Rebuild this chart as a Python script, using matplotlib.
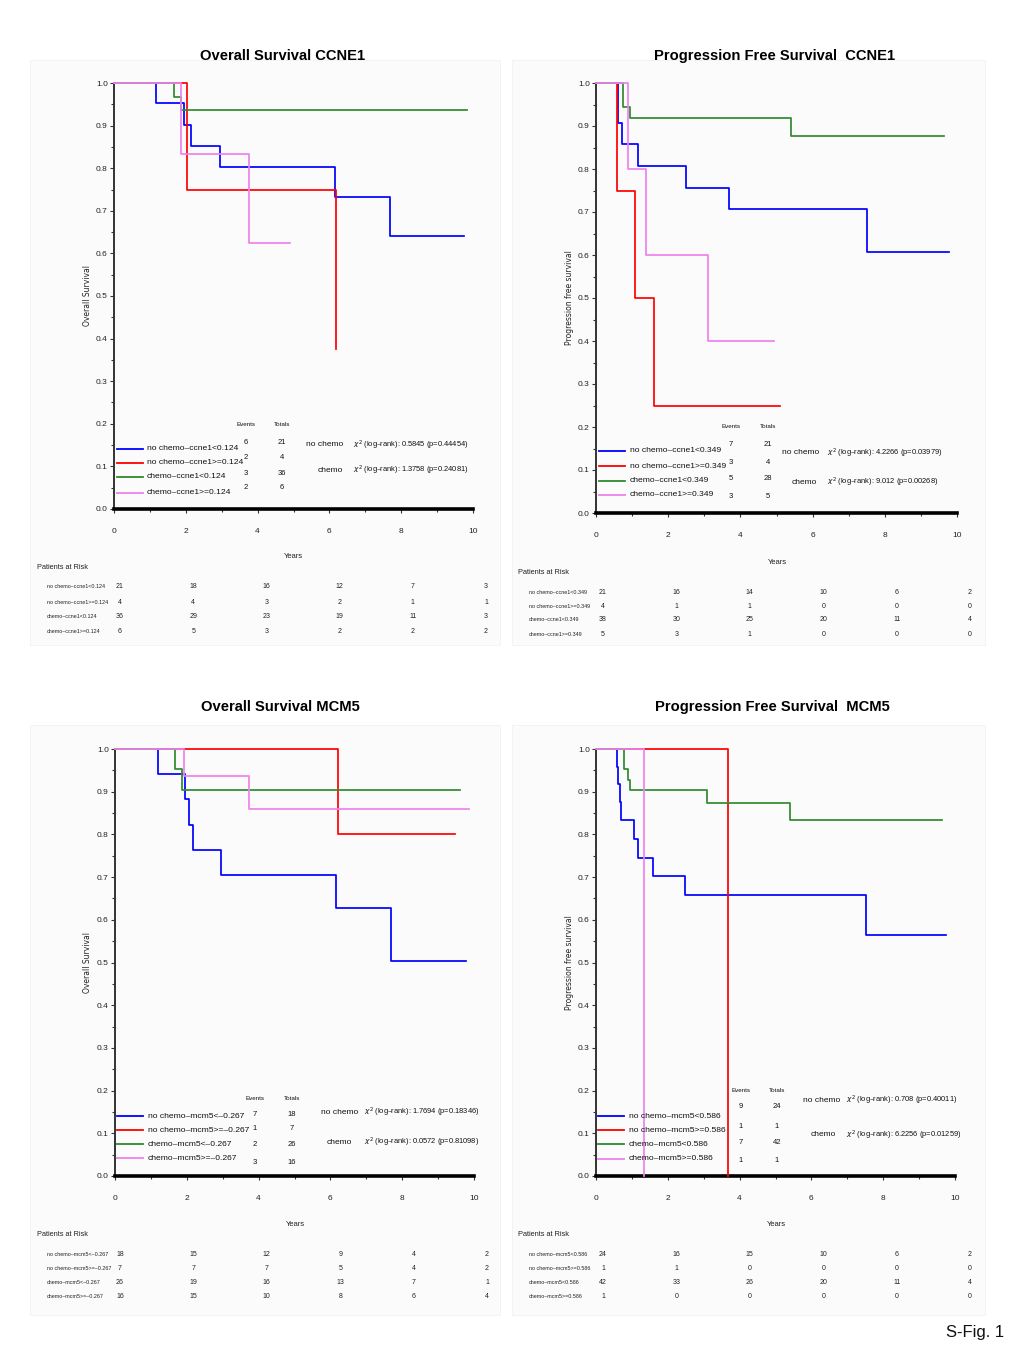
import matplotlib
matplotlib.use("Agg")
import matplotlib.pyplot as plt
from matplotlib.ticker import MultipleLocator, FormatStrFormatter
from matplotlib.patches import Rectangle

NARROW = ['Liberation Sans Narrow', 'Liberation Sans', 'DejaVu Sans']
plt.rcParams['font.family'] = NARROW
plt.rcParams['mathtext.fontset'] = 'dejavusans'

W, H = 1020, 1361
COLORS = ['#0000ff', '#ff0000', '#2e8b2e', '#ee82ee']

# ---------------- data ----------------
titles = ["Overall Survival CCNE1", "Progression Free Survival  CCNE1",
          "Overall Survival MCM5", "Progression Free Survival  MCM5"]
ylabels = ["Overall Survival", "Progression free survival",
           "Overall Survival", "Progression free survival"]

groups_p1 = ["no chemo–ccne1<0.124", "no chemo–ccne1>=0.124", "chemo–ccne1<0.124", "chemo–ccne1>=0.124"]
groups_p2 = ["no chemo–ccne1<0.349", "no chemo–ccne1>=0.349", "chemo–ccne1<0.349", "chemo–ccne1>=0.349"]
groups_p3 = ["no chemo–mcm5<–0.267", "no chemo–mcm5>=–0.267", "chemo–mcm5<–0.267", "chemo–mcm5>=–0.267"]
groups_p4 = ["no chemo–mcm5<0.586", "no chemo–mcm5>=0.586", "chemo–mcm5<0.586", "chemo–mcm5>=0.586"]

risk_labels_p1 = ["no chemo–ccne1<0.124", "no chemo–ccne1>=0.124", "chemo–ccne1<0.124", "chemo–ccne1>=0.124"]
risk_labels_p2 = ["no chemo–ccne1<0.349", "no chemo–ccne1>=0.349", "chemo–ccne1<0.349", "chemo–ccne1>=0.349"]
risk_labels_p3 = ["no chemo–mcm5<–0.267", "no chemo–mcm5>=–0.267", "chemo–mcm5<–0.267", "chemo–mcm5>=–0.267"]
risk_labels_p4 = ["no chemo–mcm5<0.586", "no chemo–mcm5>=0.586", "chemo–mcm5<0.586", "chemo–mcm5>=0.586"]

events_p1 = [6, 2, 3, 2]; totals_p1 = [21, 4, 36, 6]
events_p2 = [7, 3, 5, 3]; totals_p2 = [21, 4, 28, 5]
events_p3 = [7, 1, 2, 3]; totals_p3 = [18, 7, 26, 16]
events_p4 = [9, 1, 7, 1]; totals_p4 = [24, 1, 42, 1]

chi_p1 = ["(log–rank): 0.5845 (p=0.44454)", "(log–rank): 1.3758 (p=0.24081)"]
chi_p2 = ["(log–rank): 4.2266 (p=0.03979)", "(log–rank): 9.012 (p=0.00268)"]
chi_p3 = ["(log–rank): 1.7694 (p=0.18346)", "(log–rank): 0.0572 (p=0.81098)"]
chi_p4 = ["(log–rank): 0.708 (p=0.40011)", "(log–rank): 6.2256 (p=0.01259)"]

risk_times = [0, 2, 4, 6, 8, 10]
risk_p1 = [[21, 18, 16, 12, 7, 3], [4, 4, 3, 2, 1, 1], [36, 29, 23, 19, 11, 3], [6, 5, 3, 2, 2, 2]]
risk_p2 = [[21, 16, 14, 10, 6, 2], [4, 1, 1, 0, 0, 0], [38, 30, 25, 20, 11, 4], [5, 3, 1, 0, 0, 0]]
risk_p3 = [[18, 15, 12, 9, 4, 2], [7, 7, 7, 5, 4, 2], [26, 19, 16, 13, 7, 1], [16, 15, 10, 8, 6, 4]]
risk_p4 = [[24, 16, 15, 10, 6, 2], [1, 1, 0, 0, 0, 0], [42, 33, 26, 20, 11, 4], [1, 0, 0, 0, 0, 0]]

# Kaplan-Meier steps: event times, survival after each event, last follow-up time
km_times_p1 = [[1.18, 1.95, 2.15, 2.95, 6.15, 7.68], [2.03, 6.19], [1.66, 1.88], [1.88, 3.75]]
km_surv_p1 = [[0.952, 0.902, 0.852, 0.802, 0.733, 0.642], [0.75, 0.375], [0.968, 0.936], [0.833, 0.625]]
km_end_p1 = [9.74, 6.19, 9.83, 4.91]

km_times_p2 = [[0.62, 0.71, 1.17, 2.50, 3.69, 7.52], [0.59, 1.08, 1.62], [0.76, 0.94, 5.40], [0.88, 1.38, 3.11]]
km_surv_p2 = [[0.906, 0.858, 0.806, 0.756, 0.706, 0.606], [0.75, 0.5, 0.25], [0.945, 0.919, 0.877], [0.8, 0.6, 0.4]]
km_end_p2 = [9.77, 5.10, 9.63, 4.92]

km_times_p3 = [[1.19, 1.96, 2.05, 2.16, 2.96, 6.15, 7.70], [6.22], [1.66, 1.88], [1.91, 3.74]]
km_surv_p3 = [[0.942, 0.883, 0.823, 0.764, 0.706, 0.628, 0.503], [0.8], [0.952, 0.905], [0.937, 0.859]]
km_end_p3 = [9.77, 9.48, 9.60, 9.86]

km_times_p4 = [[0.58, 0.62, 0.66, 0.70, 1.07, 1.17, 1.60, 2.48, 7.52], [3.67], [0.77, 0.89, 0.95, 3.10, 5.39], [1.35]]
km_surv_p4 = [[0.958, 0.917, 0.875, 0.833, 0.790, 0.745, 0.703, 0.658, 0.564], [0.0],
              [0.952, 0.928, 0.904, 0.873, 0.833], [0.0]]
km_end_p4 = [9.76, 3.67, 9.64, 1.35]

# ---------------- layout (pixels) ----------------
panels = [
    dict(title=titles[0], ylab=ylabels[0], groups=groups_p1, rl=risk_labels_p1, ev=events_p1, tot=totals_p1,
         chi=chi_p1, risk=risk_p1, t=km_times_p1, s=km_surv_p1, e=km_end_p1,
         ax=(114, 473, 83, 509), tpos=(283, 56), ylx=88,
         leg_rows=[449, 463, 477, 493], leg_x=(117, 143, 147),
         ev_x=246, tot_x=282, ev_rows=[443, 458, 473, 488], hdr_y=425,
         nc=(343, 445), ch=(343, 470), chi_x=353,
         years=(293, 557), par=(37, 567), rows=[587, 602, 617, 631], rlx=47,
         rx0=120, rx10=486, bg=(30, 60, 500, 645)),
    dict(title=titles[1], ylab=ylabels[1], groups=groups_p2, rl=risk_labels_p2, ev=events_p2, tot=totals_p2,
         chi=chi_p2, risk=risk_p2, t=km_times_p2, s=km_surv_p2, e=km_end_p2,
         ax=(596, 957, 83, 513), tpos=(775, 56), ylx=570,
         leg_rows=[451, 466, 481, 495], leg_x=(599, 625, 630),
         ev_x=731, tot_x=768, ev_rows=[445, 463, 479, 497], hdr_y=427,
         nc=(819, 453), ch=(817, 482), chi_x=827,
         years=(777, 562), par=(518, 572), rows=[592, 606, 620, 634], rlx=529,
         rx0=603, rx10=970, bg=(512, 60, 985, 645)),
    dict(title=titles[2], ylab=ylabels[2], groups=groups_p3, rl=risk_labels_p3, ev=events_p3, tot=totals_p3,
         chi=chi_p3, risk=risk_p3, t=km_times_p3, s=km_surv_p3, e=km_end_p3,
         ax=(115, 474, 749, 1176), tpos=(280, 707), ylx=88,
         leg_rows=[1116, 1130, 1144, 1158], leg_x=(117, 143, 148),
         ev_x=255, tot_x=292, ev_rows=[1114, 1129, 1145, 1163], hdr_y=1098,
         nc=(358, 1112), ch=(352, 1142), chi_x=364,
         years=(295, 1225), par=(37, 1235), rows=[1254, 1269, 1283, 1297], rlx=47,
         rx0=120, rx10=487, bg=(30, 725, 500, 1315)),
    dict(title=titles[3], ylab=ylabels[3], groups=groups_p4, rl=risk_labels_p4, ev=events_p4, tot=totals_p4,
         chi=chi_p4, risk=risk_p4, t=km_times_p4, s=km_surv_p4, e=km_end_p4,
         ax=(596, 955, 749, 1176), tpos=(772, 707), ylx=570,
         leg_rows=[1116, 1130, 1144, 1159], leg_x=(598, 624, 629),
         ev_x=741, tot_x=777, ev_rows=[1107, 1127, 1143, 1161], hdr_y=1091,
         nc=(840, 1100), ch=(836, 1135), chi_x=846,
         years=(776, 1225), par=(518, 1235), rows=[1254, 1269, 1283, 1297], rlx=529,
         rx0=603, rx10=970, bg=(512, 725, 985, 1315)),
]

fig = plt.figure(figsize=(W / 100, H / 100), dpi=100)
fig.patch.set_facecolor('white')


def fx(px):
    return px / W


def fy(py):
    return 1 - py / H


def ftext(px, py, s, **kw):
    fig.text(fx(px), fy(py), s, **kw)


for k, p in enumerate(panels):
    # faint panel background
    bx0, by0, bx1, by1 = p['bg']
    fig.patches.append(Rectangle((fx(bx0), fy(by1)), fx(bx1) - fx(bx0), fy(by0) - fy(by1),
                                 transform=fig.transFigure, facecolor='#fbfbfb', edgecolor='#f2f2f2',
                                 lw=0.6, zorder=-5))

    x0, x1, y0, y1 = p['ax']
    ax = fig.add_axes([fx(x0), fy(y1), fx(x1) - fx(x0), fy(y0) - fy(y1)], zorder=2)
    ax.set_facecolor('none')
    ax.set_xlim(0, 10)
    ax.set_ylim(0, 1)
    for sp in ['top', 'right']:
        ax.spines[sp].set_visible(False)
    ax.spines['bottom'].set_linewidth(2.6)
    ax.spines['left'].set_linewidth(1.4)
    ax.spines['left'].set_color('#333333')
    ax.xaxis.set_major_locator(MultipleLocator(2))
    ax.xaxis.set_minor_locator(MultipleLocator(1))
    ax.yaxis.set_major_locator(MultipleLocator(0.1))
    ax.yaxis.set_minor_locator(MultipleLocator(0.05))
    ax.yaxis.set_major_formatter(FormatStrFormatter('%.1f'))
    ax.xaxis.set_major_formatter(FormatStrFormatter('%d'))
    ax.tick_params(axis='both', which='major', length=3, width=0.8, labelsize=6, color='#333333')
    ax.tick_params(axis='both', which='minor', length=2, width=0.8, color='#333333')
    ax.tick_params(axis='x', which='major', pad=11)
    ax.tick_params(axis='y', which='major', pad=1.5)
    for lab in ax.get_xticklabels() + ax.get_yticklabels():
        lab.set_color('#222222')

    # KM curves
    for gi in range(4):
        xs = [0] + list(p['t'][gi]) + [p['e'][gi]]
        ys = [1.0] + list(p['s'][gi]) + [p['s'][gi][-1]]
        ax.plot(xs, ys, drawstyle='steps-post', color=COLORS[gi], lw=1.25, clip_on=False,
                zorder=3 + gi)

    # title
    ftext(p['tpos'][0], p['tpos'][1], p['title'], ha='center', va='center', fontsize=10.6,
          fontweight='bold', color='black')
    # y label
    ftext(p['ylx'], (y0 + y1) / 2, p['ylab'], ha='center', va='center', rotation=90,
          fontsize=5.5, family=['DejaVu Sans'], color='#222222')

    # legend inside
    lx0, lx1, ltx = p['leg_x']
    for gi in range(4):
        yy = p['leg_rows'][gi]
        fig.add_artist(plt.Line2D([fx(lx0), fx(lx1)], [fy(yy), fy(yy)], color=COLORS[gi], lw=1.3,
                                  transform=fig.transFigure))
        ftext(ltx, yy, p['groups'][gi], ha='left', va='center', fontsize=6.1, color='#111111')
        ftext(p['ev_x'], p['ev_rows'][gi], str(p['ev'][gi]), ha='center', va='center', fontsize=5.5,
              color='#111111')
        ftext(p['tot_x'], p['ev_rows'][gi], str(p['tot'][gi]), ha='center', va='center', fontsize=5.5,
              color='#111111')
    ftext(p['ev_x'], p['hdr_y'], "Events", ha='center', va='center', fontsize=4.5, color='#111111')
    ftext(p['tot_x'], p['hdr_y'], "Totals", ha='center', va='center', fontsize=4.5, color='#111111')

    ftext(p['nc'][0], p['nc'][1], "no chemo", ha='right', va='center', fontsize=6, color='#111111')
    ftext(p['chi_x'], p['nc'][1], r"$\chi^2$ " + p['chi'][0], ha='left', va='center', fontsize=5.4,
          color='#111111')
    ftext(p['ch'][0], p['ch'][1], "chemo", ha='right', va='center', fontsize=6, color='#111111')
    ftext(p['chi_x'], p['ch'][1], r"$\chi^2$ " + p['chi'][1], ha='left', va='center', fontsize=5.4,
          color='#111111')

    # Years label and patients at risk
    ftext(p['years'][0], p['years'][1], "Years", ha='center', va='center', fontsize=5.5, color='#222222')
    ftext(p['par'][0], p['par'][1], "Patients at Risk", ha='left', va='center', fontsize=5.3,
          color='#222222')
    for gi in range(4):
        yy = p['rows'][gi]
        ftext(p['rlx'], yy, p['rl'][gi], ha='left', va='center', fontsize=3.9, color='#222222')
        for ti, t in enumerate(risk_times):
            px = p['rx0'] + (p['rx10'] - p['rx0']) * t / 10.0
            ftext(px, yy, str(p['risk'][gi][ti]), ha='center', va='center', fontsize=5,
                  color='#222222')

ftext(975, 1333, "S-Fig. 1", ha='center', va='center', fontsize=12, color='#111111')

fig.savefig("out.png", dpi=100, facecolor='white')
